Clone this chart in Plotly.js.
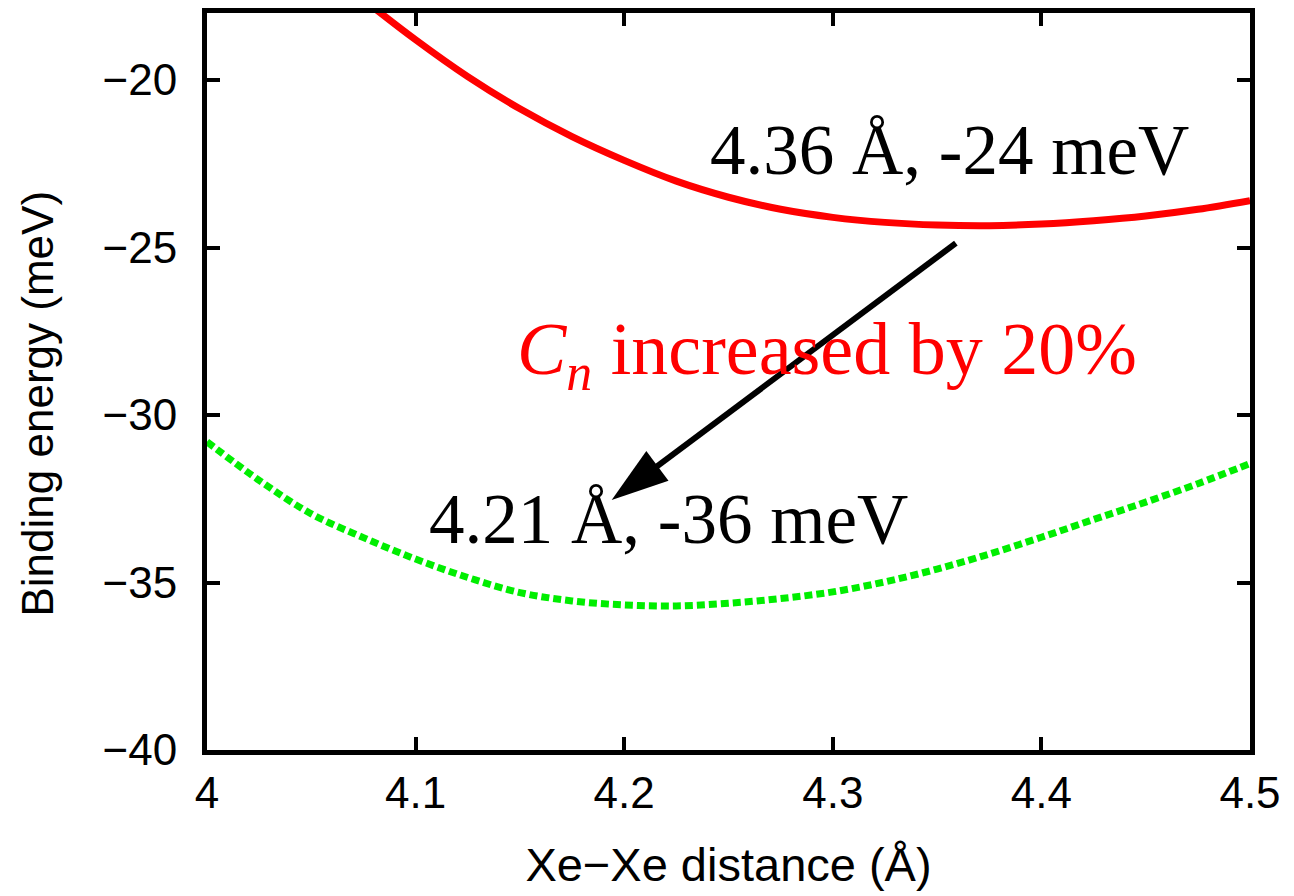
<!DOCTYPE html>
<html>
<head>
<meta charset="utf-8">
<script src="https://cdn.plot.ly/plotly-3.0.1.min.js"></script>
<style>html,body{margin:0;padding:0;background:#fff;}#chart{width:1294px;height:896px;}</style>
</head>
<body>
<div id="chart"></div>
<script>
// Original Cn curve (red, solid)
const redX = [4.075, 4.1, 4.125, 4.15, 4.175, 4.2, 4.225, 4.25, 4.275, 4.3, 4.325, 4.35, 4.375, 4.4, 4.425, 4.45, 4.475, 4.5];
const redY = [-17.6, -18.8, -19.9, -20.86, -21.69, -22.4, -23.02, -23.5, -23.86, -24.1, -24.25, -24.33, -24.35, -24.3, -24.2, -24.06, -23.86, -23.6];
// Cn increased by 20% (green, dotted)
const greenX = [4.0, 4.025, 4.05, 4.075, 4.1, 4.125, 4.15, 4.175, 4.2, 4.225, 4.25, 4.275, 4.3, 4.325, 4.35, 4.375, 4.4, 4.425, 4.45, 4.475, 4.5];
const greenY = [-30.8, -31.95, -32.95, -33.66, -34.3, -34.85, -35.3, -35.55, -35.67, -35.70, -35.62, -35.48, -35.28, -34.98, -34.6, -34.15, -33.65, -33.12, -32.6, -32.05, -31.45];

// Arrow from the old minimum label to the new one (tail, head)
const arrowX = [4.359, 4.194];
const arrowY = [-24.87, -32.54];

const xTicks = [4, 4.1, 4.2, 4.3, 4.4, 4.5];
const xTickText = ['4', '4.1', '4.2', '4.3', '4.4', '4.5'];
const yTicks = [-40, -35, -30, -25, -20];
const yTickText = ['\u221240', '\u221235', '\u221230', '\u221225', '\u221220'];

const xTitle = 'Xe\u2212Xe distance (\u00C5)';
const yTitle = 'Binding energy (meV)';
const labelOld = '4.36 \u00C5, -24 meV';
const labelNew = '4.21 \u00C5, -36 meV';
const labelChange = '<i>C</i><sub><i>n</i></sub> increased by 20%';

const serif = 'Liberation Serif, Times New Roman, serif';
const sans = 'Liberation Sans, Arial, Helvetica, sans-serif';

const traces = [
  {x: redX, y: redY, mode: 'lines', line: {color: '#ff0000', width: 7, shape: 'spline', smoothing: 1}, showlegend: false, hoverinfo: 'skip'},
  {x: greenX, y: greenY, mode: 'lines', line: {color: '#00ee00', width: 7, dash: '8px,4px', shape: 'spline', smoothing: 1}, showlegend: false, hoverinfo: 'skip'},
  {x: arrowX, y: arrowY, mode: 'lines+markers', line: {color: '#000000', width: 6},
   marker: {symbol: ['circle', 'arrow'], size: [0, 60], color: '#000000', opacity: 1, angleref: 'previous', line: {width: 0, color: '#000000'}},
   opacity: 1, showlegend: false, hoverinfo: 'skip', cliponaxis: false}
];

const axisCommon = {
  showgrid: false, zeroline: false, showline: true, linecolor: '#000', linewidth: 5,
  mirror: 'allticks', ticks: 'inside', ticklen: 13, tickwidth: 4, tickcolor: '#000',
  tickfont: {family: sans, size: 44, color: '#000'}
};

const layout = {
  width: 1294, height: 896,
  margin: {l: 207, r: 44, t: 13, b: 146},
  paper_bgcolor: '#fff', plot_bgcolor: '#fff',
  xaxis: Object.assign({}, axisCommon, {
    range: [4, 4.5], tickvals: xTicks, ticktext: xTickText, ticklabelstandoff: 0,
    title: {text: xTitle, font: {family: sans, size: 47, color: '#000'}, standoff: 34}
  }),
  yaxis: Object.assign({}, axisCommon, {
    range: [-40, -18], tickvals: yTicks, ticktext: yTickText, ticklabelstandoff: 16
  }),
  annotations: [
    {x: 0, y: 0.5, xref: 'paper', yref: 'paper', text: yTitle, textangle: -90, showarrow: false,
     xanchor: 'center', yanchor: 'middle', xshift: -170, yshift: -22,
     font: {family: sans, size: 44, color: '#000'}},
    {x: 4.356, y: -22.1, xref: 'x', yref: 'y', text: labelOld, showarrow: false,
     font: {family: serif, size: 71, color: '#000'}, xanchor: 'center', yanchor: 'middle'},
    {x: 4.221, y: -33.1, xref: 'x', yref: 'y', text: labelNew, showarrow: false,
     font: {family: serif, size: 71, color: '#000'}, xanchor: 'center', yanchor: 'middle'},
    {x: 4.297, y: -28.2, xref: 'x', yref: 'y', text: labelChange, showarrow: false,
     font: {family: serif, size: 74, color: '#ff0000'}, xanchor: 'center', yanchor: 'middle'}
  ]
};

Plotly.newPlot('chart', traces, layout, {displayModeBar: false, staticPlot: true});
</script>
</body>
</html>
